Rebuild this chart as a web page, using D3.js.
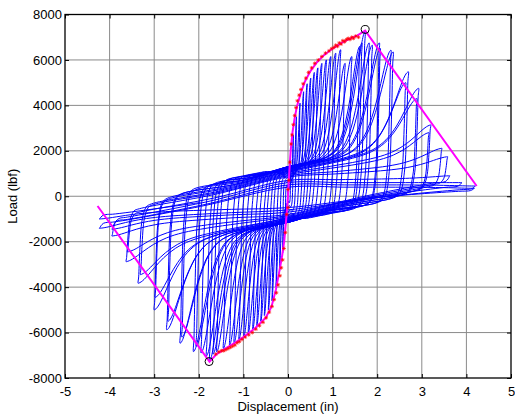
<!DOCTYPE html>
<html><head><meta charset="utf-8">
<script src="https://cdn.jsdelivr.net/npm/d3@7"></script>
<style>
body{margin:0;background:#fff}
text{font-family:Arial,"Liberation Sans",sans-serif}
</style>
</head><body>
<svg id="c" width="515" height="419"></svg>
<script>
// ---------- data ----------
const xTicks = [-5,-4,-3,-2,-1,0,1,2,3,4,5];
const yTicks = [-8000,-6000,-4000,-2000,0,2000,4000,6000,8000];

// cycle peaks
const posDisp  = [0.06,0.12,0.19,0.27,0.35,0.43,0.51,0.59,0.67,0.76,0.86,0.96,1.07,1.18,1.28,1.43,1.61,1.66,1.73,1.82,1.89,2.05,2.07,2.31,2.36,2.70,2.64,2.93,2.89,3.20,3.16,3.45,3.58,3.63,3.90,4.20,4.18];
const posLoad  = [1600,2700,3500,4100,4600,4950,5200,5450,5650,5850,6000,6150,6300,6450,5850,6150,6600,6750,7250,6750,6650,6750,6500,6430,6350,5480,5000,4750,4300,3140,2800,2110,1740,900,600,450,350];
const negDisp  = [-0.06,-0.12,-0.19,-0.27,-0.36,-0.44,-0.53,-0.61,-0.70,-0.79,-0.89,-0.99,-1.10,-1.21,-1.31,-1.45,-1.60,-1.68,-1.76,-1.83,-1.95,-2.12,-2.06,-2.42,-2.38,-2.72,-2.69,-3.00,-2.98,-3.36,-3.31,-3.63,-3.60,-3.95,-3.95,-4.23,-4.23];
const negLoad  = [-1500,-2500,-3300,-4000,-4600,-5000,-5250,-5500,-5700,-5850,-6000,-6150,-6300,-6450,-6550,-6700,-6850,-6950,-7250,-7030,-6900,-6840,-6600,-6470,-6200,-5880,-5500,-5000,-4450,-3830,-3450,-2880,-2450,-1750,-1450,-1410,-1000];
// load where each cycle crosses zero displacement (pinching)
const posPinch = [300,500,700,850,950,1050,1100,1150,1200,1250,1250,1300,1300,1300,1300,1300,1300,1300,1300,1250,1250,1250,1200,1200,1200,1150,1100,1100,1050,1000,950,900,850,700,600,500,400];
const negPinch = [-300,-500,-700,-850,-950,-1000,-1050,-1100,-1100,-1150,-1150,-1150,-1150,-1150,-1150,-1150,-1150,-1150,-1150,-1150,-1100,-1100,-1100,-1100,-1100,-1050,-1050,-1000,-1000,-950,-950,-900,-850,-800,-700,-600,-500];

// envelope (magenta)
const envDisp = [-4.27,-1.76,-1.60,-1.45,-1.15,-1.00,-0.74,-0.50,-0.37,-0.27,-0.18,-0.13,-0.08,-0.04,0,0.03,0.06,0.10,0.15,0.20,0.28,0.38,0.50,0.65,0.80,1.00,1.20,1.40,1.55,1.73,4.23];
const envLoad = [-430,-7277,-6950,-6760,-6400,-6200,-5810,-5350,-4860,-4100,-3150,-2600,-1900,-1000,0,1100,2000,2800,3450,3950,4500,5050,5500,5900,6200,6500,6750,6950,7070,7290,450];

// red asterisks
const starDisp = [0.00,0.02,0.04,0.07,0.09,0.12,0.15,0.18,0.21,0.25,0.29,0.34,0.40,0.46,0.53,0.60,0.68,0.76,0.84,0.92,0.98,1.03,1.07,1.11,1.15,1.19,1.23,1.27,1.31,1.35,1.39,1.43,1.47,1.52,1.58,
  0.00,-0.03,-0.06,-0.09,-0.12,-0.15,-0.18,-0.22,-0.26,-0.31,-0.36,-0.42,-0.49,-0.56,-0.64,-0.72,-0.80,-0.88,-0.96,-1.03,-1.09,-1.14,-1.19,-1.24,-1.29,-1.34,-1.39,-1.44,-1.49,-1.55,-1.62];
const starLoad = [-500,700,1500,2300,2700,3150,3550,3900,4200,4450,4700,4950,5200,5450,5650,5850,6000,6150,6300,6400,6500,6550,6650,6600,6750,6700,6850,6800,6900,6950,6900,7000,6950,7050,7000,
  300,-800,-1600,-2300,-2800,-3150,-3500,-3900,-4250,-4550,-4850,-5100,-5350,-5550,-5700,-5850,-6000,-6100,-6200,-6300,-6400,-6450,-6550,-6600,-6650,-6700,-6750,-6800,-6800,-6850,-6950];

// peak markers
const peakDisp = [1.73,-1.77];
const peakLoad = [7340,-7277];

// ---------- layout ----------
const L=65, R=511, T=14.5, B=378;
const svg = d3.select("#c");
svg.append("rect").attr("width",515).attr("height",419).attr("fill","#fff");
const x = d3.scaleLinear().domain([-5,5]).range([L,R]);
const y = d3.scaleLinear().domain([-8000,8000]).range([B,T]);

// grid
const g = svg.append("g");
g.selectAll("line.gx").data(xTicks.slice(1,-1)).join("line")
  .attr("x1",d=>x(d)).attr("x2",d=>x(d)).attr("y1",T).attr("y2",B)
  .attr("stroke","#8a8a8a").attr("stroke-width",1);
g.selectAll("line.gy").data(yTicks.slice(1,-1)).join("line")
  .attr("y1",d=>y(d)).attr("y2",d=>y(d)).attr("x1",L).attr("x2",R)
  .attr("stroke","#8a8a8a").attr("stroke-width",1);

// ---------- hysteresis loops ----------
const sb = 420, ex = 8;
const tLoad = [0.3,0.5,0.65,0.75,0.83,0.89,0.93,0.96,0.98,0.993,1];
const shape = t => 1 - Math.pow(1 - Math.pow(t,ex), 2);   // rounded-top reloading shape
const pts = [[0,0]];
const n = posDisp.length;
for (let i=0;i<n;i++){
  const xp=posDisp[i], Fp=posLoad[i], xn=negDisp[i], Fn=negLoad[i];
  const pp=posPinch[i], np=negPinch[i];
  const ppNext = i+1<n ? posPinch[i+1] : posPinch[i];
  // positive reloading
  pts.push([0,pp]);
  const sL = Math.max(0, Math.min(sb, 0.5*(Fp-pp)/xp));
  tLoad.forEach(t=>{
    const xx = xp*t;
    pts.push([xx, pp + sL*xx + (Fp-pp-sL*xp)*shape(t)]);
  });
  // positive unloading down to band
  const w = Math.min(0.3, 0.5*xp);
  const sU = Math.min(sb, 0.85*(Fp-np)/(xp-w));
  const Fb = np + sU*(xp-w);
  const dU = Fp-Fb;
  pts.push([xp-0.04*w, Fp-0.08*dU]);
  pts.push([xp-0.12*w, Fp-0.4*dU]);
  pts.push([xp-0.3*w, Fp-0.8*dU]);
  pts.push([xp-0.6*w, Fb+0.04*dU]);
  pts.push([xp-w, Fb]);
  pts.push([(xp-w)/2, np + sU*(xp-w)/2 + 80]);
  pts.push([0, np]);
  // negative reloading
  const an = -xn;
  const sLn = Math.max(0, Math.min(sb, 0.5*(np-Fn)/an));
  tLoad.forEach(t=>{
    const xx = an*t;
    pts.push([-xx, np - sLn*xx - (np-Fn-sLn*an)*shape(t)]);
  });
  // negative unloading up to band
  const wn = Math.min(0.3, 0.5*an);
  const sUn = Math.min(sb, 0.85*(ppNext-Fn)/(an-wn));
  const Fbn = ppNext - sUn*(an-wn);
  const dN = Fbn-Fn;
  pts.push([xn+0.04*wn, Fn+0.08*dN]);
  pts.push([xn+0.12*wn, Fn+0.4*dN]);
  pts.push([xn+0.3*wn, Fn+0.8*dN]);
  pts.push([xn+0.6*wn, Fbn-0.04*dN]);
  pts.push([xn+wn, Fbn]);
  pts.push([(xn+wn)/2, ppNext - sUn*(an-wn)/2 - 80]);
}
svg.append("defs").append("clipPath").attr("id","clip")
  .append("rect").attr("x",L).attr("y",T).attr("width",R-L).attr("height",B-T);
const line = d3.line().x(d=>x(d[0])).y(d=>y(d[1])).curve(d3.curveCatmullRom.alpha(0.5));
svg.append("path").attr("d",line(pts)).attr("fill","none")
  .attr("stroke","#0000ff").attr("stroke-width",1).attr("clip-path","url(#clip)");

// envelope
const env = envDisp.map((d,i)=>[d,envLoad[i]]);
svg.append("path").attr("d",d3.line().x(d=>x(d[0])).y(d=>y(d[1])).curve(d3.curveLinear)(env))
  .attr("fill","none").attr("stroke","#ff00ff").attr("stroke-width",2);

// asterisks
const s=1.9;
const ast = `M${-s},0H${s}M0,${-s}V${s}M${-s*0.7},${-s*0.7}L${s*0.7},${s*0.7}M${-s*0.7},${s*0.7}L${s*0.7},${-s*0.7}`;
svg.append("g").selectAll("path").data(starDisp.map((d,i)=>[d,starLoad[i]])).join("path")
  .attr("transform",d=>`translate(${x(d[0])},${y(d[1])})`)
  .attr("d",ast).attr("stroke","#ff0000").attr("stroke-width",0.7).attr("fill","none");

// peak circles
svg.append("g").selectAll("circle").data(peakDisp.map((d,i)=>[d,peakLoad[i]])).join("circle")
  .attr("cx",d=>x(d[0])).attr("cy",d=>y(d[1])).attr("r",4)
  .attr("fill","none").attr("stroke","#000").attr("stroke-width",1);

// axes
function styleAxis(sel){ sel.select(".domain").remove(); sel.selectAll("line").attr("stroke","#000"); sel.selectAll("text").attr("font-size",13).attr("fill","#000").attr("font-family","Arial, 'Liberation Sans', sans-serif"); }
svg.append("g").attr("transform",`translate(0,${B})`)
  .call(d3.axisBottom(x).tickValues(xTicks).tickSize(-4).tickPadding(9).tickFormat(d3.format("d"))).call(styleAxis);
svg.append("g").attr("transform",`translate(0,${T})`)
  .call(d3.axisTop(x).tickValues(xTicks).tickSize(-4).tickFormat("")).call(styleAxis);
svg.append("g").attr("transform",`translate(${L},0)`)
  .call(d3.axisLeft(y).tickValues(yTicks).tickSize(-4).tickPadding(3).tickFormat(d3.format("d"))).call(styleAxis);
svg.append("g").attr("transform",`translate(${R},0)`)
  .call(d3.axisRight(y).tickValues(yTicks).tickSize(-4).tickFormat("")).call(styleAxis);
svg.selectAll("g.tick text").text(function(){return this.textContent.replace("−","-");});

svg.append("rect").attr("x",L).attr("y",T).attr("width",R-L).attr("height",B-T)
  .attr("fill","none").attr("stroke","#000").attr("stroke-width",1.3);

svg.append("text").attr("x",(L+R)/2).attr("y",411).attr("text-anchor","middle")
  .attr("font-size",13).text("Displacement (in)");
svg.append("text").attr("transform",`translate(17,${(T+B)/2}) rotate(-90)`).attr("text-anchor","middle")
  .attr("font-size",13).text("Load (lbf)");
</script>
</body></html>
